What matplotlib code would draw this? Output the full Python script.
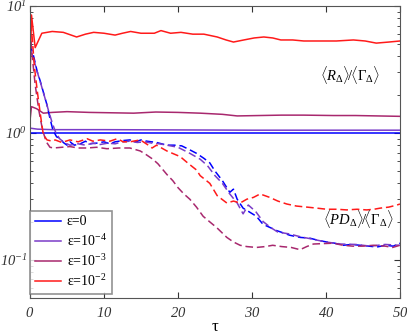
import numpy as np
import matplotlib.pyplot as plt
from matplotlib.ticker import FuncFormatter, LogLocator, MultipleLocator, NullFormatter

plt.rcParams['font.family'] = ['Liberation Serif', 'DejaVu Serif']
plt.rcParams['mathtext.fontset'] = 'custom'
plt.rcParams['mathtext.rm'] = 'Liberation Serif'
plt.rcParams['mathtext.it'] = 'Liberation Serif:italic'
plt.rcParams['mathtext.bf'] = 'Liberation Serif:bold'
plt.rcParams['mathtext.sf'] = 'Liberation Serif:italic'  # italic digits for tick labels

labels = ['ε=0', 'ε=10$^{-4}$', 'ε=10$^{-3}$', 'ε=10$^{-2}$']
colors = ['#0000ff', '#7a3cc8', '#a8286e', '#ff1a1a']

# <R>/<Gamma> (solid lines)
t_r0 = [0, 50]
r_eps0 = [1.005, 1.005]
t_r4 = [0, 1, 3, 10, 20, 30, 40, 50]
r_eps4 = [1.09, 1.07, 1.06, 1.06, 1.055, 1.05, 1.05, 1.05]
t_r3 = [0, 0.2, 0.9, 1.8, 3, 5, 8, 11, 14, 17, 20, 23, 26, 28, 31, 34, 37, 41, 44, 47, 50]
r_eps3 = [1.25, 1.61, 1.55, 1.43, 1.45, 1.47, 1.45, 1.44, 1.43, 1.46, 1.45, 1.43, 1.40, 1.36, 1.37, 1.38, 1.38, 1.37, 1.37, 1.36, 1.35]
t_r2 = [0, 0.2, 0.7, 1.6, 3, 4.5, 6.3, 7.5, 8.6, 10, 11.5, 12.5, 13.6, 15, 16.8, 17.7, 19, 20.4, 22, 23.5,
        25.3, 26.5, 27.5, 28.9, 30.3, 31.6, 32.8, 33.9, 35.5, 37, 39, 41.4, 43.7, 45.3, 46.8, 48.5, 50]
r_eps2 = [2.5, 8.5, 4.7, 6.1, 6.3, 6.2, 5.7, 6.0, 6.2, 6.1, 5.9, 6.1, 6.3, 6.1, 6.1, 6.4, 6.1, 6.2, 6.0, 6.0,
          5.7, 5.4, 5.2, 5.4, 5.6, 5.7, 5.6, 5.4, 5.4, 5.3, 5.3, 5.3, 5.4, 5.3, 5.1, 5.2, 5.3]

# <PD>/<Gamma> (dashed lines)
t_p0 = [0, 0.5, 1, 1.35, 1.8, 2.3, 2.7, 3.1, 3.6, 4.05, 4.5, 5, 5.4, 6, 6.8, 7.5, 8, 9, 10, 10.8, 11.5,
        12.6, 13.5, 14.3, 15, 15.8, 17.1, 18.5, 19.5, 20.5, 21.5, 22.5, 23.5, 24.3, 25, 26, 27, 27.5, 28,
        28.8, 29.7, 30.6, 31.5, 32.4, 33.3, 34.2, 35.1, 36.5, 37.8, 39, 40.1, 41.2, 42.3, 43.5, 44.6, 45.8,
        46.9, 48, 49.1, 50]
p_eps0 = [5.0, 4.0, 3.0, 2.6, 2.1, 1.66, 1.3, 1.05, 0.93, 0.91, 0.84, 0.8, 0.85, 0.8, 0.82, 0.86, 0.82, 0.83,
          0.85, 0.82, 0.85, 0.87, 0.88, 0.85, 0.88, 0.86, 0.84, 0.8, 0.8, 0.79, 0.74, 0.69, 0.63, 0.58, 0.5,
          0.42, 0.34, 0.36, 0.3, 0.255, 0.237, 0.22, 0.19, 0.18, 0.17, 0.163, 0.156, 0.15, 0.148, 0.142,
          0.138, 0.135, 0.13, 0.132, 0.13, 0.128, 0.126, 0.13, 0.128, 0.135]
t_p4 = [0, 0.5, 1, 1.5, 2, 2.5, 3, 3.5, 4, 4.6, 5.4, 6.5, 7.5, 8.5, 9.5, 10.5, 11.5, 12.5, 13.5, 14.5, 15.5,
        16.5, 17.5, 18.5, 20, 21.6, 23, 24, 25, 26, 27, 28, 28.8, 29.5, 30.5, 31.5, 32.5, 33.5, 35, 36.5,
        38, 40, 42, 44, 46, 48, 50]
p_eps4 = [4.6, 3.8, 3.0, 2.4, 1.9, 1.5, 1.2, 1.0, 0.9, 0.84, 0.8, 0.82, 0.8, 0.83, 0.81, 0.83, 0.82, 0.85,
          0.86, 0.84, 0.85, 0.83, 0.82, 0.8, 0.77, 0.69, 0.62, 0.55, 0.46, 0.4, 0.33, 0.28, 0.23, 0.27, 0.24,
          0.2, 0.18, 0.165, 0.16, 0.152, 0.146, 0.138, 0.133, 0.132, 0.128, 0.132, 0.13]
t_p3 = [0, 0.3, 0.7, 1.2, 1.7, 2.2, 2.7, 3.2, 4.3, 5.4, 6.5, 7.7, 9, 10.4, 12, 13.5, 14.9, 15.6, 16.6, 17.3,
        18.5, 19.3, 20, 20.8, 21.6, 22.5, 23.4, 24.7, 25.2, 26.6, 27.5, 28.4, 29.3, 30.6, 31.8, 32.8, 34,
        35.3, 36.5, 37.4, 38.3, 39.5, 41, 42.3, 43.6, 45, 46.4, 48, 49, 50]
p_eps3 = [6.5, 4.0, 2.4, 1.5, 1.05, 0.85, 0.77, 0.76, 0.77, 0.78, 0.76, 0.76, 0.77, 0.75, 0.76, 0.76, 0.72,
          0.68, 0.62, 0.57, 0.47, 0.42, 0.37, 0.33, 0.3, 0.26, 0.22, 0.19, 0.18, 0.15, 0.138, 0.13, 0.127,
          0.125, 0.127, 0.13, 0.127, 0.125, 0.12, 0.127, 0.133, 0.134, 0.135, 0.13, 0.128, 0.128, 0.13,
          0.128, 0.125, 0.13]
t_p2 = [0, 0.3, 0.6, 1, 1.4, 1.8, 2.3, 3, 3.4, 4.3, 5.4, 6.5, 7.7, 8.5, 9.5, 10.8, 11.8, 12.6, 13.5, 14.9,
        16, 16.5, 17.1, 18.5, 19.5, 20.3, 21.3, 22.5, 23, 24.3, 25.3, 26.6, 27.5, 28.4, 29.3, 30.2, 31.1,
        32.4, 33.5, 34.7, 36, 37.4, 38.8, 40.1, 41.5, 42.8, 44.2, 45.5, 46.5, 47.3, 48.5, 49.6, 50]
p_eps2 = [9.0, 5.6, 3.3, 2.1, 1.4, 0.97, 0.88, 0.86, 0.88, 0.84, 0.88, 0.85, 0.9, 0.86, 0.88, 0.86, 0.9,
          0.85, 0.85, 0.88, 0.8, 0.76, 0.8, 0.72, 0.68, 0.65, 0.58, 0.51, 0.46, 0.4, 0.32, 0.28, 0.29,
          0.28, 0.3, 0.31, 0.33, 0.31, 0.29, 0.275, 0.265, 0.26, 0.255, 0.25, 0.25, 0.247, 0.25, 0.247,
          0.25, 0.255, 0.26, 0.27, 0.275]

solid = [(t_r0, r_eps0), (t_r4, r_eps4), (t_r3, r_eps3), (t_r2, r_eps2)]
dashed = [(t_p0, p_eps0), (t_p4, p_eps4), (t_p3, p_eps3), (t_p2, p_eps2)]

fig = plt.figure(figsize=(4.07, 3.34), dpi=100)
ax = fig.add_axes([0.0737, 0.108, 0.909, 0.874])

for (t, v), c, lab in zip(solid, colors, labels):
    ax.semilogy(t, v, color=c, lw=1.1, label=lab)
for (t, v), c in zip(dashed, colors):
    ax.semilogy(t, v, color=c, lw=1.1, ls=(0, (5, 2.5)))

ax.set_xlim(0, 50)
ax.set_ylim(0.05, 10)
ax.xaxis.set_major_locator(MultipleLocator(10))
ax.yaxis.set_major_locator(LogLocator(base=10))
ax.yaxis.set_minor_locator(LogLocator(base=10, subs=np.arange(2, 10)))
ax.yaxis.set_minor_formatter(NullFormatter())
ax.yaxis.set_major_formatter(FuncFormatter(lambda v, p: r'$\mathsf{10^{%d}}$' % round(np.log10(v))))
ax.xaxis.set_major_formatter(FuncFormatter(lambda v, p: r'$\mathsf{%d}$' % v))
ax.tick_params(which='both', direction='in', top=True, right=True, labelsize=10.5, colors='#333333')
ax.tick_params(axis='x', pad=6)
ax.tick_params(axis='y', pad=2)
ax.tick_params(which='major', length=4)
ax.tick_params(which='minor', length=2.5)
for s in ax.spines.values():
    s.set_color('#555555')
    s.set_linewidth(0.8)
ax.set_xlabel('τ', fontsize=12, labelpad=-1)

ax.text(43.2, 2.86, r'$\langle R_\Delta\rangle\!/\!\langle \Gamma_\Delta\rangle$', fontsize=10.5,
        ha='center', va='center')
ax.text(44.4, 0.21, r'$\langle PD_\Delta\rangle\!/\!\langle \Gamma_\Delta\rangle$', fontsize=10.5,
        ha='center', va='center')

leg = ax.legend(loc='lower left', bbox_to_anchor=(0, 0.015), fontsize=10, handlelength=1.9,
                borderaxespad=0.0, fancybox=False, labelspacing=0.3, handletextpad=0.4,
                borderpad=0.35)
leg.get_frame().set_edgecolor('#777777')
leg.get_frame().set_linewidth(1.2)

fig.savefig('out.png', dpi=100)
